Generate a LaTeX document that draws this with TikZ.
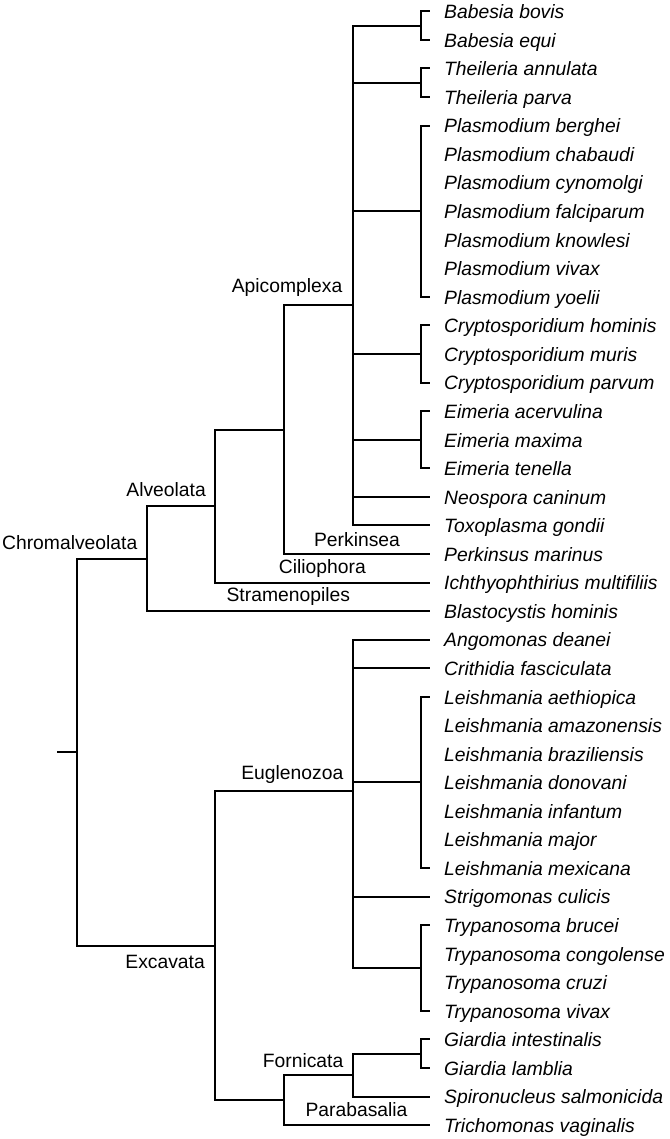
\documentclass[tikz,border=0pt]{standalone}
\usepackage{fontspec}
\setmainfont{Liberation Sans}
\begin{document}
\begin{tikzpicture}[x=1pt,y=-1pt,
  branch/.style={line width=2pt},
  leaflab/.style={anchor=base west,inner sep=0pt,font=\fontsize{19.3}{23}\selectfont\itshape},
  cladelab/.style={inner sep=0pt,font=\fontsize{19.3}{23}\selectfont}]
\useasboundingbox (0,0) rectangle (669,1139);
% leaf tips and labels
\foreach \i/\t in {0/Babesia bovis,1/Babesia equi,2/Theileria annulata,3/Theileria parva,
  4/Plasmodium berghei,5/Plasmodium chabaudi,6/Plasmodium cynomolgi,7/Plasmodium falciparum,
  8/Plasmodium knowlesi,9/Plasmodium vivax,10/Plasmodium yoelii,11/Cryptosporidium hominis,
  12/Cryptosporidium muris,13/Cryptosporidium parvum,14/Eimeria acervulina,15/Eimeria maxima,
  16/Eimeria tenella,17/Neospora caninum,18/Toxoplasma gondii,19/Perkinsus marinus,
  20/Ichthyophthirius multifiliis,21/Blastocystis hominis,22/Angomonas deanei,
  23/Crithidia fasciculata,24/Leishmania aethiopica,25/Leishmania amazonensis,
  26/Leishmania braziliensis,27/Leishmania donovani,28/Leishmania infantum,
  29/Leishmania major,30/Leishmania mexicana,31/Strigomonas culicis,32/Trypanosoma brucei,
  33/Trypanosoma congolense,34/Trypanosoma cruzi,35/Trypanosoma vivax,
  36/Giardia intestinalis,37/Giardia lamblia,38/Spironucleus salmonicida,
  39/Trichomonas vaginalis}{
  \pgfmathsetmacro{\yy}{11.3+28.56*\i}
  \coordinate (t\i) at (430,\yy);
  \node[leaflab] (l\i) at (444,\yy+7.3) {\t};
}
% internal nodes
\coordinate (bab) at (421,25.58);
\coordinate (the) at (421,82.70);
\coordinate (pla) at (421,211.22);
\coordinate (cry) at (421,354.02);
\coordinate (eim) at (421,439.70);
\coordinate (lei) at (421,782.42);
\coordinate (try) at (421,968.06);
\coordinate (gia) at (421,1053.74);
\coordinate (api) at (352.7,305.06);
\coordinate (eug) at (352.7,790.99);
\coordinate (for) at (352.7,1075.16);
\coordinate (apk) at (284,429.50);
\coordinate (fp) at (284,1100.15);
\coordinate (alv) at (214.8,506.00);
\coordinate (exc) at (214.8,945.57);
\coordinate (chr) at (146.5,558.53);
\coordinate (root) at (77.3,752.05);
\coordinate (stub) at (57,752.05);
% branches
\foreach \p/\c in {bab/t0,bab/t1,the/t2,the/t3,pla/t4,pla/t10,cry/t11,cry/t13,eim/t14,eim/t16,
  lei/t24,lei/t30,try/t32,try/t35,gia/t36,gia/t37,
  api/bab,api/the,api/pla,api/cry,api/eim,api/t17,api/t18,
  eug/t22,eug/t23,eug/lei,eug/t31,eug/try,
  for/gia,for/t38,
  apk/api,apk/t19,fp/for,fp/t39,
  alv/apk,alv/t20,exc/eug,exc/fp,
  chr/alv,chr/t21,root/chr,root/exc}{
  \draw[branch] (\p) |- (\c);
}
\draw[branch] (stub) -- (root);
% clade labels
\node[cladelab,anchor=base east] (Lapi) at (342.5,293) {Apicomplexa};
\node[cladelab,anchor=base east] (Lalv) at (206,496.5) {Alveolata};
\node[cladelab,anchor=base east] (Lchr) at (137.5,549) {Chromalveolata};
\node[cladelab,anchor=base] (Lper) at (357,546) {Perkinsea};
\node[cladelab,anchor=base] (Lcil) at (322.4,573.5) {Ciliophora};
\node[cladelab,anchor=base] (Lstr) at (288.3,601.5) {Stramenopiles};
\node[cladelab,anchor=base east] (Leug) at (343.5,779.5) {Euglenozoa};
\node[cladelab,anchor=base east] (Lexc) at (205,968.5) {Excavata};
\node[cladelab,anchor=base east] (Lfor) at (343.5,1067) {Fornicata};
\node[cladelab,anchor=base] (Lpar) at (356.5,1116.5) {Parabasalia};
\end{tikzpicture}
\end{document}
